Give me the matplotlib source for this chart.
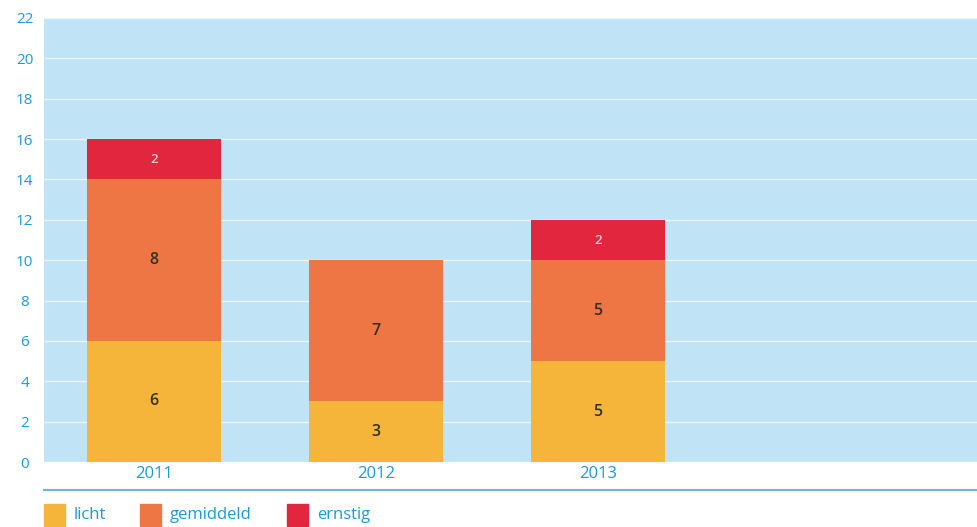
import matplotlib
matplotlib.use("Agg")
import matplotlib.pyplot as plt
from matplotlib.patches import Rectangle
from matplotlib.lines import Line2D

years = ["2011", "2012", "2013"]
licht = [6, 3, 5]
gemiddeld = [8, 7, 5]
ernstig = [2, 0, 2]
series_names = ["licht", "gemiddeld", "ernstig"]
yticks = list(range(0, 23, 2))

c_licht = "#f5b43a"
c_gem = "#ee7645"
c_ern = "#e2263e"
c_bg = "#c0e4f6"
c_txt = "#1a9ad8"

plt.rcParams['font.family'] = ['Open Sans', 'DejaVu Sans']

fig = plt.figure(figsize=(9.78, 5.27), dpi=100)
ax = fig.add_axes([44/978, 65/527, 1 - 44/978, (462-18)/527])
ax.set_facecolor(c_bg)

x = list(range(len(years)))
w = 0.604
ax.bar(x, licht, width=w, color=c_licht, zorder=3)
ax.bar(x, gemiddeld, width=w, bottom=licht, color=c_gem, zorder=3)
bott = [a + b for a, b in zip(licht, gemiddeld)]
ax.bar(x, ernstig, width=w, bottom=bott, color=c_ern, zorder=3)

for i in x:
    ax.text(i, licht[i]/2, str(licht[i]), ha='center', va='center', fontsize=11.5,
            fontweight='semibold', color='#33301f', zorder=4)
    ax.text(i, licht[i] + gemiddeld[i]/2, str(gemiddeld[i]), ha='center', va='center', fontsize=11.5,
            fontweight='semibold', color='#33301f', zorder=4)
    if ernstig[i]:
        ax.text(i, bott[i] + ernstig[i]/2, str(ernstig[i]), ha='center', va='center', fontsize=9.5,
                fontweight='semibold', color='#f6d0d6', zorder=4)

ax.set_xlim(-0.495, 3.71)
ax.set_ylim(0, 22)
ax.set_yticks(yticks)
ax.set_yticklabels([str(t) for t in yticks], color=c_txt, fontsize=11)
ax.set_xticks(x)
ax.set_xticklabels(years, color=c_txt, fontsize=12)
ax.tick_params(length=0)
ax.tick_params(axis='y', pad=14)
ax.tick_params(axis='x', pad=3)
for lbl in ax.get_yticklabels():
    lbl.set_horizontalalignment('center')
for s in ax.spines.values():
    s.set_visible(False)
ax.yaxis.grid(True, color='#e8f5fc', linewidth=1.0, zorder=1)
ax.set_axisbelow(True)

# separator line
fig.add_artist(Line2D([44/978, 1.0], [1 - 490/527, 1 - 490/527], color="#6cb7e2", linewidth=1.5, transform=fig.transFigure))

# legend
leg_items = [(44, c_licht), (140, c_gem), (287, c_ern)]
for (lx, col), name in zip(leg_items, series_names):
    fig.add_artist(Rectangle((lx/978, 1 - 526/527), 21/978, 22/527, color=col, transform=fig.transFigure))
    fig.text((lx + 30)/978, 1 - 515/527, name, color=c_txt, fontsize=12, va='center', ha='left')

fig.savefig("out.png", dpi=100)
